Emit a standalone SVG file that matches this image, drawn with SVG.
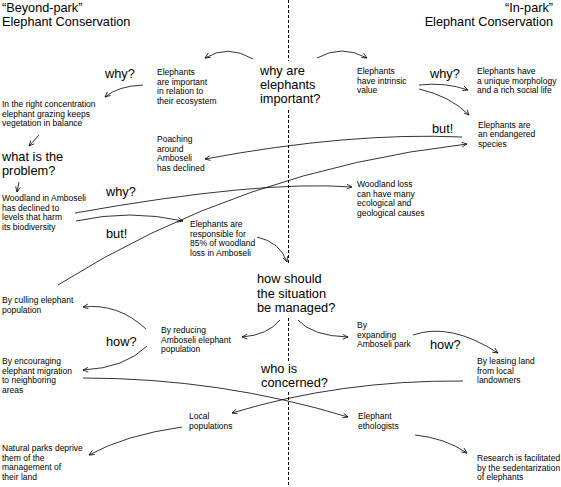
<svg xmlns="http://www.w3.org/2000/svg" width="561" height="487" viewBox="0 0 561 487">
<style>
text{font-family:"Liberation Sans",Arial,sans-serif;fill:#000}
.t{font-size:12.7px}
.q{font-size:12.8px}
.s{font-size:8.5px}
.c path{fill:none;stroke:#000;stroke-width:0.8}
.d{fill:none;stroke:#000;stroke-width:1;stroke-dasharray:3,2}
</style>
<defs>
<marker id="a" viewBox="0 0 8 8" refX="7.5" refY="4" markerWidth="6" markerHeight="6" markerUnits="userSpaceOnUse" orient="auto">
<path d="M0.5,0.8 L7.5,4 L0.5,7.2" fill="none" stroke="#000" stroke-width="1"/>
</marker>
</defs>
<rect width="561" height="487" fill="#fff"/>
<g id="divider">
<path class="d" d="M288.5,0 V61 M288.5,110 V263 M288.5,318 V362 M288.5,392 V487"/>
</g>
<g id="title-left"><text class="t" x="2" y="12">“Beyond-park”</text><text class="t" x="2" y="26">Elephant Conservation</text></g>
<g id="title-right"><text class="t" x="553" y="12" text-anchor="end">“In-park”</text><text class="t" x="553" y="26" text-anchor="end">Elephant Conservation</text></g>
<g id="why-important"><text class="q" x="260" y="75">why are</text><text class="q" x="260" y="89">elephants</text><text class="q" x="260" y="103">important?</text></g>
<g id="ecosystem"><text class="s" x="157" y="75">Elephants</text><text class="s" x="157" y="84.5">are important</text><text class="s" x="157" y="94">in relation to</text><text class="s" x="157" y="103.5">their ecosystem</text></g>
<g id="intrinsic"><text class="s" x="357" y="74">Elephants</text><text class="s" x="357" y="83.5">have intrinsic</text><text class="s" x="357" y="93">value</text></g>
<g id="morphology"><text class="s" x="477" y="74">Elephants have</text><text class="s" x="477" y="83.5">a unique morphology</text><text class="s" x="477" y="93">and a rich social life</text></g>
<g id="endangered"><text class="s" x="478" y="127.5">Elephants are</text><text class="s" x="478" y="137">an endangered</text><text class="s" x="478" y="146.5">species</text></g>
<g id="concentration"><text class="s" x="2" y="107">In the right concentration</text><text class="s" x="2" y="116.5">elephant grazing keeps</text><text class="s" x="2" y="126">vegetation in balance</text></g>
<g id="problem"><text class="q" x="2" y="161">what is the</text><text class="q" x="2" y="175">problem?</text></g>
<g id="poaching"><text class="s" x="157" y="142">Poaching</text><text class="s" x="157" y="151.5">around</text><text class="s" x="157" y="161">Amboseli</text><text class="s" x="157" y="170.5">has declined</text></g>
<g id="woodland"><text class="s" x="2" y="201">Woodland in Amboseli</text><text class="s" x="2" y="210.5">has declined to</text><text class="s" x="2" y="220">levels that harm</text><text class="s" x="2" y="229.5">its biodiversity</text></g>
<g id="responsible"><text class="s" x="190" y="227">Elephants are</text><text class="s" x="190" y="236.5">responsible for</text><text class="s" x="190" y="246">85% of woodland</text><text class="s" x="190" y="255.5">loss in Amboseli</text></g>
<g id="woodland-loss"><text class="s" x="357" y="187">Woodland loss</text><text class="s" x="357" y="196.5">can have many</text><text class="s" x="357" y="206">ecological and</text><text class="s" x="357" y="215.5">geological causes</text></g>
<g id="managed"><text class="q" x="257" y="283">how should</text><text class="q" x="257" y="297.5">the situation</text><text class="q" x="257" y="312">be managed?</text></g>
<g id="culling"><text class="s" x="2" y="303">By culling elephant</text><text class="s" x="2" y="312.5">population</text></g>
<g id="reducing"><text class="s" x="161" y="333">By reducing</text><text class="s" x="161" y="342.5">Amboseli elephant</text><text class="s" x="161" y="352">population</text></g>
<g id="expanding"><text class="s" x="357" y="328">By</text><text class="s" x="357" y="337.5">expanding</text><text class="s" x="357" y="347">Amboseli park</text></g>
<g id="leasing"><text class="s" x="477" y="364">By leasing land</text><text class="s" x="477" y="373.5">from local</text><text class="s" x="477" y="383">landowners</text></g>
<g id="encouraging"><text class="s" x="2" y="364">By encouraging</text><text class="s" x="2" y="373.5">elephant migration</text><text class="s" x="2" y="383">to neighboring</text><text class="s" x="2" y="392.5">areas</text></g>
<g id="concerned"><text class="q" x="261" y="373">who is</text><text class="q" x="261" y="387">concerned?</text></g>
<g id="local"><text class="s" x="189" y="419">Local</text><text class="s" x="189" y="428.5">populations</text></g>
<g id="ethologists"><text class="s" x="358" y="419">Elephant</text><text class="s" x="358" y="428.5">ethologists</text></g>
<g id="natural-parks"><text class="s" x="2" y="451">Natural parks deprive</text><text class="s" x="2" y="460.5">them of the</text><text class="s" x="2" y="470">management of</text><text class="s" x="2" y="479.5">their land</text></g>
<g id="research"><text class="s" x="477" y="461">Research is facilitated</text><text class="s" x="477" y="470.5">by the sedentarization</text><text class="s" x="477" y="480">of elephants</text></g>
<g id="labels">
<text class="q" x="105" y="78">why?</text>
<text class="q" x="430" y="78">why?</text>
<text class="q" x="432" y="133">but!</text>
<text class="q" x="106" y="196">why?</text>
<text class="q" x="106" y="238">but!</text>
<text class="q" x="106" y="346">how?</text>
<text class="q" x="430" y="349">how?</text>
</g>
<g id="connectors" class="c">
<path marker-end="url(#a)" d="M253,59 Q228,44 205,58"/>
<path marker-end="url(#a)" d="M317,58 Q342,44 367,58"/>
<path marker-end="url(#a)" d="M143,85 Q118,86 105,97"/>
<path marker-end="url(#a)" d="M39,135 L29,146"/>
<path marker-end="url(#a)" d="M19,182 L17,192"/>
<path marker-end="url(#a)" d="M419,85 Q445,82 468,90"/>
<path marker-end="url(#a)" d="M419,89 Q450,96 469,115"/>
<path marker-end="url(#a)" d="M462,137 Q350,132 205,159"/>
<path marker-end="url(#a)" d="M58,285 Q240,170 467,144"/>
<path marker-end="url(#a)" d="M75,213 Q260,180 352,187"/>
<path marker-end="url(#a)" d="M76,221 Q130,209 183,221"/>
<path marker-end="url(#a)" d="M257,237 Q280,242 287,262"/>
<path marker-end="url(#a)" d="M280,320 Q268,335 242,337"/>
<path marker-end="url(#a)" d="M298,320 Q312,336 348,337"/>
<path marker-end="url(#a)" d="M146,329 Q118,303 83,307"/>
<path marker-end="url(#a)" d="M147,346 Q125,368 83,370"/>
<path marker-end="url(#a)" d="M413,335 Q450,322 498,353"/>
<path marker-end="url(#a)" d="M83,378 Q220,378 348,417"/>
<path marker-end="url(#a)" d="M463,381 Q340,380 232,413"/>
<path marker-end="url(#a)" d="M182,427 Q125,435 89,455"/>
<path marker-end="url(#a)" d="M415,435 Q445,438 467,453"/>
</g>
</svg>
